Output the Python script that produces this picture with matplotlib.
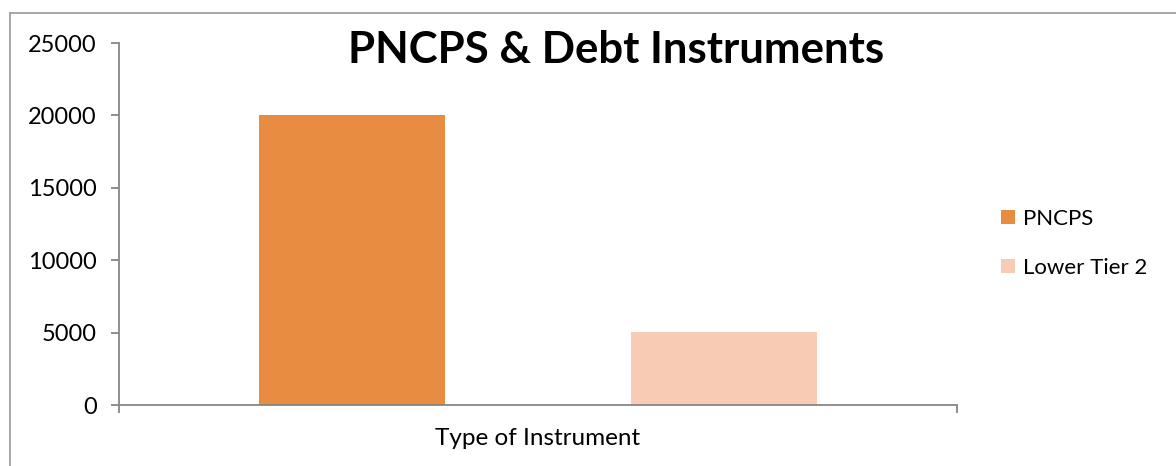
import numpy as np
import matplotlib.pyplot as plt
from matplotlib.lines import Line2D
from matplotlib.patches import Patch

plt.rcParams['font.family'] = ['Lato', 'DejaVu Sans']

series = ['PNCPS', 'Lower Tier 2']
values = [20000, 5050]
colors = ['#e88c42', '#f8cbb4']
category = 'Type of Instrument'
yticks = [0, 5000, 10000, 15000, 20000, 25000]

fig = plt.figure(figsize=(11.76, 4.66), dpi=100)
ax = fig.add_axes([0.1012, 0.1309, 0.7126, 0.7768])

offsets = [-0.222, 0.222]
for off, val, col, name in zip(offsets, values, colors, series):
    ax.bar(off, val, width=0.222, color=col, label=name)

ax.set_xlim(-0.5, 0.5)
ax.set_ylim(0, 25000)
ax.set_yticks(yticks)
ax.set_yticklabels([str(t) for t in yticks])
ax.set_xticks([-0.5, 0.5])
ax.set_xticklabels(['', ''])

grey = '#868686'
for s in ['top', 'right']:
    ax.spines[s].set_visible(False)
for s in ['left', 'bottom']:
    ax.spines[s].set_color(grey)
    ax.spines[s].set_linewidth(1.3)
ax.tick_params(axis='both', color=grey, width=1.3, length=6, direction='out')
ax.tick_params(axis='y', labelsize=17, pad=10)

ax.set_xlabel(category, fontsize=17.5, labelpad=7)

fig.text(0.524, 0.893, 'PNCPS & Debt Instruments', fontsize=31.5, fontweight='bold',
         ha='center', va='center')

handles = [Patch(facecolor=c, label=n) for c, n in zip(colors, series)]
fig.legend(handles=handles, loc='center left', bbox_to_anchor=(0.834, 0.478),
           frameon=False, fontsize=16, handlelength=0.62, handleheight=0.62,
           handletextpad=0.4, labelspacing=1.3)

# chart frame (left and top edges)
fig.add_artist(Line2D([10 / 1176, 10 / 1176], [0, 1 - 13 / 466], color='#a0a0a0', lw=1.3,
                      transform=fig.transFigure))
fig.add_artist(Line2D([10 / 1176, 1], [1 - 13 / 466, 1 - 13 / 466], color='#a0a0a0', lw=1.3,
                      transform=fig.transFigure))

fig.savefig('out.png', dpi=100)
